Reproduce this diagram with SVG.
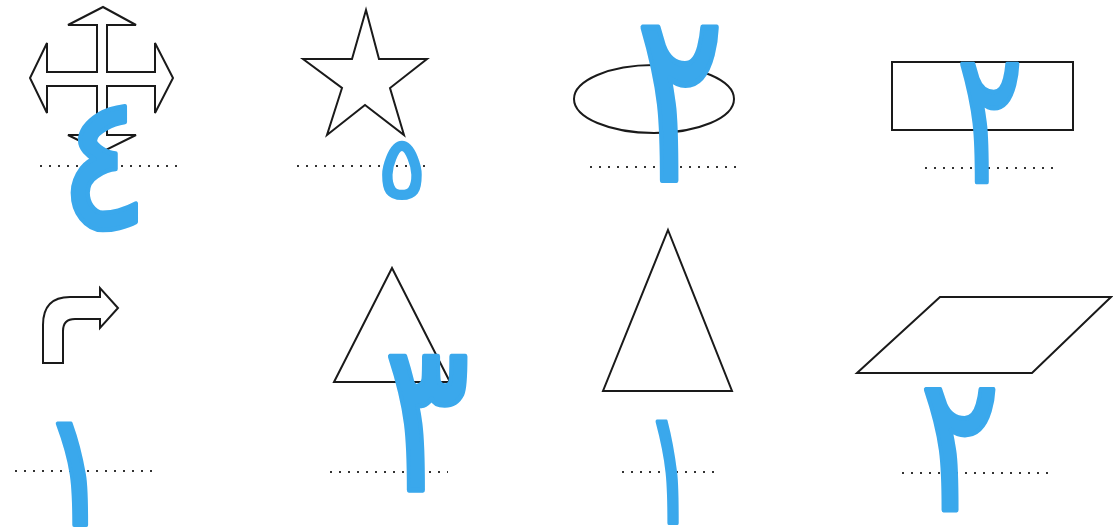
<svg xmlns="http://www.w3.org/2000/svg" width="1113" height="532" viewBox="0 0 1113 532">
<style>
.sh{fill:#fff;stroke:#1a1a1a;stroke-width:2;stroke-linejoin:miter}
.dot{stroke:#333;stroke-width:2.2;stroke-dasharray:2 7;fill:none}
.hw{fill:#3aa8ec;stroke:#3aa8ec;stroke-width:5;stroke-linejoin:round;font-family:"DejaVu Sans",sans-serif;font-weight:normal;text-anchor:middle;font-size:200px}
</style>
<rect width="1113" height="532" fill="#fff"/>
<g id="item-cross">
<path class="sh" d="M103,7 L136,25 L107,25 L107,72 L155,72 L155,43 L173,78 L155,113 L155,86 L107,86 L107,135 L136,135 L102,152 L68,135 L97,135 L97,86 L47,86 L47,113 L30,78 L47,43 L47,72 L97,72 L97,25 L68,25 Z"/>
<line class="dot" x1="40" y1="166" x2="180" y2="166"/>
<text class="hw" transform="translate(104,228) scale(0.85,0.95)">٤</text>
</g>
<g id="item-star">
<path class="sh" d="M366,10 L379,59 L427,59 L390,88 L404,135 L365,105 L327,135 L342,88 L303,59 L352,59 Z"/>
<line class="dot" x1="297" y1="166" x2="428" y2="166"/>
<text class="hw" transform="translate(402,198) scale(0.46,0.44)">٥</text>
</g>
<g id="item-ellipse">
<ellipse class="sh" cx="654" cy="99" rx="80" ry="34"/>
<line class="dot" x1="590" y1="167" x2="742" y2="167"/>
<text class="hw" transform="translate(680,180) scale(0.82,1.2)">٢</text>
</g>
<g id="item-rect">
<rect class="sh" x="892" y="62" width="181" height="68"/>
<line class="dot" x1="925" y1="168" x2="1056" y2="168"/>
<text class="hw" transform="translate(990,182) scale(0.62,0.93)">٢</text>
</g>
<g id="item-bent-arrow">
<path class="sh" d="M43,363 L43,325 Q43,297 70,297 L100,297 L100,288 L118,308 L100,328 L100,319 L75,319 Q63,319 63,331 L63,363 Z"/>
<line class="dot" x1="15" y1="471" x2="155" y2="471"/>
<text class="hw" transform="translate(76,525) scale(0.7,0.8)">١</text>
</g>
<g id="item-triangle-1">
<path class="sh" d="M392,268 L450,382 L334,382 Z"/>
<line class="dot" x1="330" y1="472" x2="448" y2="472"/>
<text class="hw" transform="translate(427,490) scale(0.8,1.05)">٣</text>
</g>
<g id="item-triangle-2">
<path class="sh" d="M668,230 L732,391 L603,391 Z"/>
<line class="dot" x1="622" y1="472" x2="718" y2="472"/>
<text class="hw" transform="translate(670,523) scale(0.5,0.8)">١</text>
</g>
<g id="item-parallelogram">
<path class="sh" d="M857,373 L940,297 L1111,297 L1032,373 Z"/>
<line class="dot" x1="902" y1="473" x2="1054" y2="473"/>
<text class="hw" transform="translate(960,510) scale(0.75,0.95)">٢</text>
</g>
</svg>
